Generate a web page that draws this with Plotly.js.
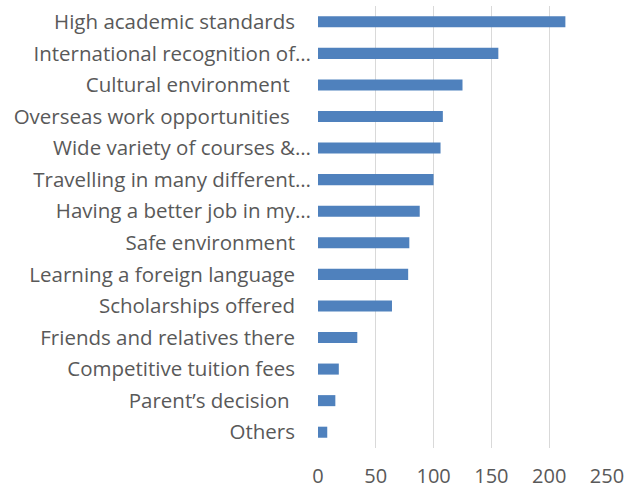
<!DOCTYPE html>
<html>
<head>
<meta charset="utf-8">
<script src="https://cdn.plot.ly/plotly-3.0.1.min.js"></script>
<style>
  html, body { margin: 0; padding: 0; background: #ffffff; }
  #chart { width: 628px; height: 490px; }
</style>
</head>
<body>
<div id="chart"></div>
<script>
// Reasons for choosing to study abroad, top to bottom as in the sheet
const reasons = [
    "High academic standards",
    "International recognition of\u2026",
    "Cultural environment",
    "Overseas work opportunities",
    "Wide variety of courses &\u2026",
    "Travelling in many different\u2026",
    "Having a better job in my\u2026",
    "Safe environment",
    "Learning a foreign language",
    "Scholarships offered",
    "Friends and relatives there",
    "Competitive tuition fees",
    "Parent\u2019s decision",
    "Others"
];

const counts = [214, 156, 125, 108, 106, 100, 88, 79, 78, 64, 34, 18, 15, 8];

const xTicks = [0, 50, 100, 150, 200, 250];

// =========================================================================

const grey = "#595959";

// Excel leaves trailing blanks after the full labels, the cut ones (…) run to the axis
const nbsp = "\u00A0";
const tickText = reasons.map((r) => {
    if (r.endsWith("\u2026")) return r;
    let pad = 3;
    if (r === "Cultural environment" || r === "Overseas work opportunities" || r === "Parent\u2019s decision") pad = 4;
    return r + nbsp.repeat(pad);
});

const trace = {
    type: "bar",
    orientation: "h",
    x: counts,
    y: reasons,
    marker: {
        color: "#4F81BD"
    },
    hoverinfo: "x+y"
};

const layout = {
    width: 628,
    height: 490,
    margin: { t: 6, l: 318, r: 21, b: 42 },
    paper_bgcolor: "#ffffff",
    plot_bgcolor: "#ffffff",
    font: { family: "'Open Sans', sans-serif", size: 21, color: grey },
    bargap: 0.65,
    showlegend: false,
    xaxis: {
        range: [0, 250],
        tickmode: "array",
        tickvals: xTicks,
        showgrid: true,
        gridcolor: "#D9D9D9",
        gridwidth: 1,
        zeroline: false,
        showline: false,
        ticks: "",
        ticklabelstandoff: 14,
        tickfont: { size: 20, color: grey }
    },
    yaxis: {
        autorange: "reversed",
        tickmode: "array",
        tickvals: reasons,
        ticktext: tickText,
        showgrid: false,
        zeroline: false,
        showline: false,
        ticks: "",
        ticklabelstandoff: 6,
        tickfont: { size: 20.5, color: grey }
    }
};

Plotly.newPlot("chart", [trace], layout, { staticPlot: true, displayModeBar: false });
</script>
</body>
</html>
